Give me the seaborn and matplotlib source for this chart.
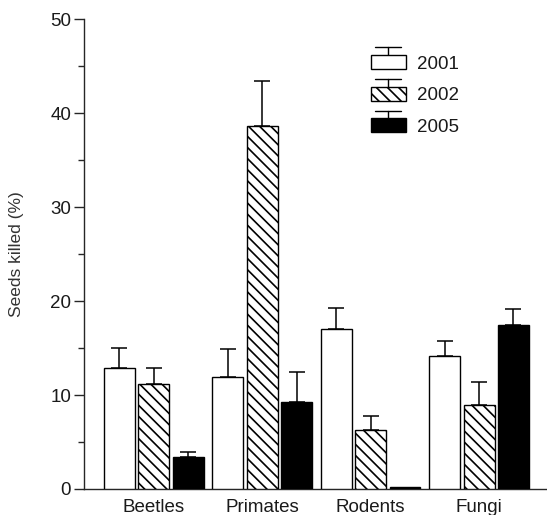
import matplotlib
matplotlib.use("Agg")
import matplotlib.pyplot as plt
import seaborn as sns
import pandas as pd
import numpy as np
from matplotlib.patches import Rectangle, Patch
from matplotlib.lines import Line2D
from matplotlib.legend_handler import HandlerPatch

categories = ["Beetles", "Primates", "Rodents", "Fungi"]
years = ["2001", "2002", "2005"]
values_2001 = [12.9, 11.95, 17.05, 14.15]
values_2002 = [11.2, 38.6, 6.25, 8.9]
values_2005 = [3.4, 9.3, 0.2, 17.45]
err_2001 = [2.1, 2.9, 2.2, 1.65]
err_2002 = [1.7, 4.8, 1.55, 2.45]
err_2005 = [0.55, 3.2, np.nan, 1.75]

sns.set_style("ticks")
plt.rcParams["font.family"] = ["Liberation Sans", "DejaVu Sans"]
plt.rcParams["hatch.linewidth"] = 1.2

rows = []
for yr, vals in zip(years, [values_2001, values_2002, values_2005]):
    for c, v in zip(categories, vals):
        rows.append({"cat": c, "year": yr, "val": v})
df = pd.DataFrame(rows)

fig = plt.figure(figsize=(5.47, 5.15), dpi=100)
ax = fig.add_axes([0.153, 0.0505, 0.847, 0.912])

palette = {"2001": "white", "2002": "white", "2005": "black"}
sns.barplot(data=df, x="cat", y="val", hue="year", order=categories,
            hue_order=years, palette=palette, errorbar=None, width=0.95,
            gap=0.1, edgecolor="black", linewidth=1.0, ax=ax, legend=False,
            saturation=1, zorder=3)

hatches = ["", "\\\\\\", ""]
errs = [err_2001, err_2002, err_2005]
for cont, h, er in zip(ax.containers, hatches, errs):
    xs, ys, es = [], [], []
    for bar, e in zip(cont.patches, er):
        bar.set_hatch(h)
        if not np.isnan(e):
            xs.append(bar.get_x() + bar.get_width() / 2)
            ys.append(bar.get_height())
            es.append(e)
    ax.errorbar(xs, ys, yerr=[np.zeros(len(es)), es], fmt="none",
                ecolor="black", elinewidth=1.1, capsize=6, capthick=1.1,
                zorder=2)

txt = "#1a1a1a"
ax.set_xlim(-0.646, 3.626)
ax.set_ylim(0, 50)
ax.set_yticks(np.arange(0, 51, 10))
ax.set_yticks(np.arange(5, 50, 10), minor=True)
ax.tick_params(axis="y", which="major", length=7, width=1.0, pad=2,
               labelsize=13.5, labelcolor=txt)
ax.tick_params(axis="y", which="minor", length=4, width=1.0)
ax.tick_params(axis="x", length=0, pad=7, labelsize=13.5, labelcolor=txt)
ax.set_xlabel("")
ax.set_ylabel("Seeds killed (%)", fontsize=12.5, color="#333333")
ax.yaxis.set_label_coords(-0.128, 0.5)
for s in ["top", "right"]:
    ax.spines[s].set_visible(False)
for s in ["left", "bottom"]:
    ax.spines[s].set_linewidth(1.0)


class HandlerBarErr(HandlerPatch):
    def create_artists(self, legend, orig_handle, xdescent, ydescent,
                       width, height, fontsize, trans):
        x0, y0 = -xdescent, -ydescent
        p = Rectangle((x0, y0), width, height,
                      facecolor=orig_handle.get_facecolor(),
                      edgecolor="black", hatch=orig_handle.get_hatch(),
                      lw=1.0, transform=trans)
        cx = x0 + width / 2
        top = y0 + height
        v = Line2D([cx, cx], [y0 + height * 0.45, top + height * 0.55],
                   color="black", lw=1.0, transform=trans)
        c = Line2D([cx - width * 0.37, cx + width * 0.37],
                   [top + height * 0.55] * 2, color="black", lw=1.0,
                   transform=trans)
        return [v, p, c]


handles = [Patch(facecolor="white", edgecolor="black", hatch=""),
           Patch(facecolor="white", edgecolor="black", hatch="\\\\\\"),
           Patch(facecolor="black", edgecolor="black", hatch="")]
leg = fig.legend(handles, years, loc="upper left",
                 bbox_to_anchor=(0.678, 0.893),
                 frameon=False, fontsize=13.5, handlelength=1.85,
                 handleheight=0.78, handletextpad=0.6, labelspacing=0.75,
                 borderpad=0, borderaxespad=0,
                 handler_map={Patch: HandlerBarErr()})
for t in leg.get_texts():
    t.set_color(txt)

fig.savefig("out.png", dpi=100)
